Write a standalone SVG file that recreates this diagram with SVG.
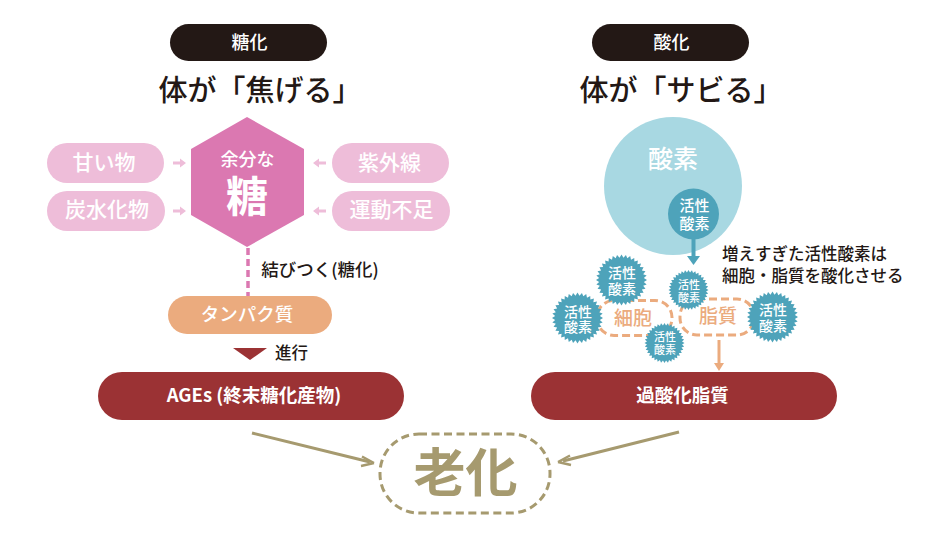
<svg xmlns="http://www.w3.org/2000/svg" width="930" height="535" viewBox="0 0 930 535">
<style>
text{font-family:"Noto Sans CJK JP","Noto Sans",sans-serif;text-anchor:middle}
.w{fill:#fff}.b{fill:#231815}.m{font-weight:500}.bd{font-weight:700}
.st{text-anchor:start}
.hd{fill:#231815}.soft{fill:#eebdd9}.softt{fill:#fff;font-size:21px;font-weight:500}
.sa{fill:#eebdd9}.burst{fill:#4ea3ba}
.dash{fill:none;stroke:#ebab7e;stroke-width:3;stroke-dasharray:8 4}
.red{fill:#9b3234}
</style>
<defs>
<polygon id="star" points="100,0 87.7,7.7 98.5,17.4 85,22.8 94,34.2 79.8,37.2 86.6,50 72.1,50.5 76.6,64.3 62.2,62.2 64.3,76.6 50.5,72.1 50,86.6 37.2,79.8 34.2,94 22.8,85 17.4,98.5 7.7,87.7 0,100 -7.7,87.7 -17.4,98.5 -22.8,85 -34.2,94 -37.2,79.8 -50,86.6 -50.5,72.1 -64.3,76.6 -62.2,62.2 -76.6,64.3 -72.1,50.5 -86.6,50 -79.8,37.2 -94,34.2 -85,22.8 -98.5,17.4 -87.7,7.7 -100,0 -87.7,-7.7 -98.5,-17.4 -85,-22.8 -94,-34.2 -79.8,-37.2 -86.6,-50 -72.1,-50.5 -76.6,-64.3 -62.2,-62.2 -64.3,-76.6 -50.5,-72.1 -50,-86.6 -37.2,-79.8 -34.2,-94 -22.8,-85 -17.4,-98.5 -7.7,-87.7 0,-100 7.7,-87.7 17.4,-98.5 22.8,-85 34.2,-94 37.2,-79.8 50,-86.6 50.5,-72.1 64.3,-76.6 62.2,-62.2 76.6,-64.3 72.1,-50.5 86.6,-50 79.8,-37.2 94,-34.2 85,-22.8 98.5,-17.4 87.7,-7.7"/>
</defs>
<rect width="930" height="535" fill="#fff"/>

<g id="n-oxygen"><circle cx="673" cy="186" r="69" fill="#a8d8e2"/><text class="w m" x="673" y="168" font-size="25">酸素</text></g>

<g id="connectors">
<path d="M248 248V296" fill="none" stroke="#db78b1" stroke-width="3.500" stroke-dasharray="7 4"/>
<path class="sa" d="M173 161.500h7v-3l6 4.500l-6 4.500v-3h-7z"/>
<path class="sa" d="M173 209.500h7v-3l6 4.500l-6 4.500v-3h-7z"/>
<path class="sa" d="M326 161.500h-7v-3l-6 4.500l6 4.500v-3h7z"/>
<path class="sa" d="M326 209.500h-7v-3l-6 4.500l6 4.500v-3h7z"/>
<path class="red" d="M233 348H267L250 360Z"/>
<path d="M693.500 238V258" stroke="#4ea3ba" stroke-width="4" fill="none"/>
<path d="M687 256H700L693.500 265Z" fill="#4ea3ba"/>
<path d="M719 340V365" stroke="#ebab7e" stroke-width="3" fill="none"/>
<path d="M714 363H724L719 371Z" fill="#ebab7e"/>
<path d="M252 433L370 462" stroke="#a69a6f" stroke-width="3" fill="none"/>
<path d="M374 463L362 456.500M374 463L361 466" stroke="#a69a6f" stroke-width="2.500" fill="none"/>
<path d="M679 432L563 461" stroke="#a69a6f" stroke-width="3" fill="none"/>
<path d="M558 462L570 455.500M558 462L571 465" stroke="#a69a6f" stroke-width="2.500" fill="none"/>
</g>

<g id="head-left"><rect class="hd" x="170" y="24" width="157" height="37" rx="18.500"/><text class="w m" x="249.500" y="49" font-size="18">糖化</text></g>
<g id="title-left"><text class="b m" x="260" y="101" font-size="29">体が「焦げる」</text></g>
<g id="head-right"><rect class="hd" x="592" y="24" width="157" height="37" rx="18.500"/><text class="w m" x="671.500" y="49" font-size="18">酸化</text></g>
<g id="title-right"><text class="b m" x="681" y="101" font-size="29">体が「サビる」</text></g>

<g id="n-amai"><rect class="soft" x="47" y="143" width="117" height="40" rx="20"/><text class="softt" x="104" y="170">甘い物</text></g>
<g id="n-tansui"><rect class="soft" x="47" y="191" width="118" height="40" rx="20"/><text class="softt" x="107" y="217">炭水化物</text></g>
<g id="n-shigai"><rect class="soft" x="332" y="143" width="117" height="40" rx="20"/><text class="softt" x="389.500" y="170">紫外線</text></g>
<g id="n-undo"><rect class="soft" x="332" y="191" width="118" height="40" rx="20"/><text class="softt" x="391.500" y="217">運動不足</text></g>

<g id="n-sugar">
<polygon points="247,117 304,149 304,215 247,247 191,215 191,149" fill="#db78b1"/>
<text class="w m" x="247.500" y="166" font-size="18">余分な</text>
<text class="w bd" x="247" y="212" font-size="42">糖</text>
</g>
<g id="l-musubi"><text class="b m" x="320" y="276" font-size="17.500">結びつく(糖化)</text></g>
<g id="n-protein"><rect x="168" y="296" width="164" height="38" rx="19" fill="#ebab7e"/><text class="w m" x="247" y="321" font-size="18.500">タンパク質</text></g>
<g id="l-shinko"><text class="b m" x="291.500" y="359" font-size="16.500">進行</text></g>
<g id="n-ages"><rect class="red" x="98" y="372" width="306" height="48" rx="24"/><text class="w bd" x="254" y="402" font-size="18.500">AGEs (終末糖化産物)</text></g>

<g id="n-ros-main"><circle cx="693.500" cy="214" r="25.500" fill="#4ea3ba"/><text class="w m" x="694.500" y="211" font-size="15">活性</text><text class="w m" x="694.500" y="229" font-size="15">酸素</text></g>
<g id="l-note"><text class="b m st" x="722" y="260" font-size="16.500">増えすぎた活性酸素は</text><text class="b m st" x="722" y="282" font-size="16.500">細胞・脂質を酸化させる</text></g>

<g id="n-cell"><rect class="dash" x="597" y="300.500" width="75" height="35" rx="17"/><text x="633" y="325" font-size="19" fill="#ebab7e" font-weight="500">細胞</text></g>
<g id="n-lipid"><rect class="dash" x="680" y="299" width="74" height="36" rx="17"/><text x="718" y="323" font-size="19" fill="#ebab7e" font-weight="500">脂質</text></g>

<g id="n-ros1"><use href="#star" class="burst" transform="translate(621.500 280) scale(.255)"/><text class="w m" x="622" y="278" font-size="14">活性</text><text class="w m" x="622" y="294" font-size="14">酸素</text></g>
<g id="n-ros2"><use href="#star" class="burst" transform="translate(577.500 318) scale(.255)"/><text class="w m" x="578" y="317" font-size="14">活性</text><text class="w m" x="578" y="332" font-size="14">酸素</text></g>
<g id="n-ros3"><use href="#star" class="burst" transform="translate(688.500 290) scale(.2)"/><text class="w m" x="689" y="289" font-size="11">活性</text><text class="w m" x="689" y="302" font-size="11">酸素</text></g>
<g id="n-ros4"><use href="#star" class="burst" transform="translate(664.500 343) scale(.2)"/><text class="w m" x="665" y="341" font-size="11">活性</text><text class="w m" x="665" y="354" font-size="11">酸素</text></g>
<g id="n-ros5"><use href="#star" class="burst" transform="translate(772.500 317) scale(.255)"/><text class="w m" x="773" y="315" font-size="14">活性</text><text class="w m" x="773" y="331" font-size="14">酸素</text></g>

<g id="n-peroxide"><rect class="red" x="531" y="372" width="306" height="48" rx="24"/><text class="w bd" x="682.500" y="402" font-size="18.500">過酸化脂質</text></g>

<g id="n-aging"><rect x="380" y="434" width="170" height="79" rx="39" fill="none" stroke="#a69a6f" stroke-width="3" stroke-dasharray="8 4.500"/><text x="465.500" y="492" font-size="52" font-weight="700" fill="#a69a6f">老化</text></g>
</svg>
